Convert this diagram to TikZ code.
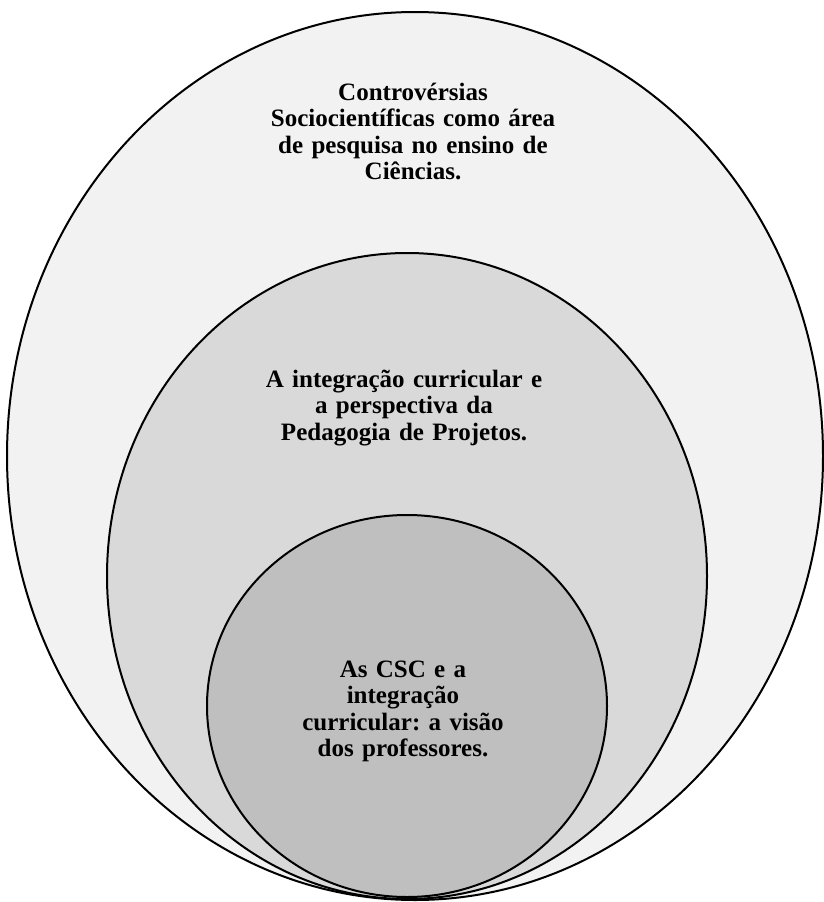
\documentclass[tikz,border=0pt]{standalone}
\usepackage{fontspec}
\setmainfont{Liberation Serif}
\usepackage{tikz}
\frenchspacing

\definecolor{outerfill}{HTML}{F2F2F2}
\definecolor{midfill}{HTML}{D9D9D9}
\definecolor{innerfill}{HTML}{BFBFBF}

\tikzset{
	ring/.style={draw=black, line width=2pt},
	ringtext/.style={text width=330pt, align=center, anchor=base, inner sep=0pt,
		font=\bfseries\fontsize{25}{26.5}\selectfont}
}

\begin{document}
\begin{tikzpicture}[x=1pt, y=-1pt]
	  \useasboundingbox (0, 0) rectangle (823, 902);
	  \foreach \cx / \cy / \rx / \ry / \col in {415/456/408/444/outerfill,407/576/300/323/midfill,407/706/200/191/innerfill}
	  {
		\draw[ring, fill=\col](\cx, \cy) ellipse [x radius=\rx, y radius=\ry];
	  }
	  \draw(413, 100) node[ringtext](csc) {Controvérsias\\ Sociocientíficas como área\\ de pesquisa no ensino de\\ Ciências.};
	  \draw(404, 387) node[ringtext](proj) {A integração curricular e\\ a perspectiva da\\ Pedagogia de Projetos.};
	  \draw(403, 677) node[ringtext](prof) {As CSC e a\\ integração\\ curricular: a visão\\ dos professores.};
	\end{tikzpicture}
\end{document}
